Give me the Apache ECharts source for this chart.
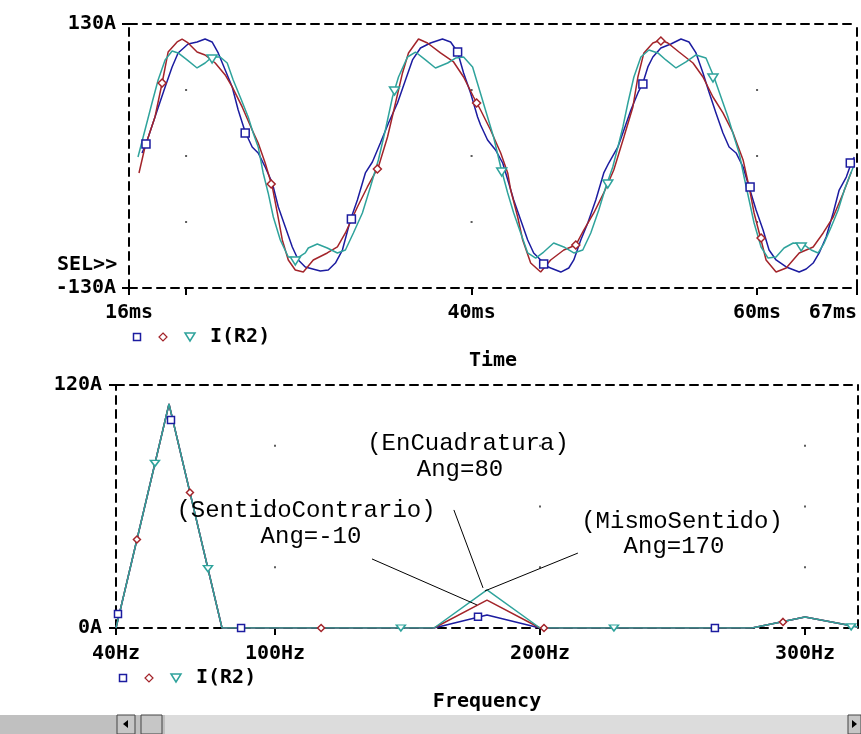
<!DOCTYPE html>
<html><head><meta charset="utf-8">
<script src="https://cdn.jsdelivr.net/npm/echarts@6/dist/echarts.min.js"></script>
<style>html,body{margin:0;padding:0;background:#fff}#c{width:861px;height:734px}</style>
</head><body><div id="c"></div>
<script>
// ---------- Top plot: I(R2) vs Time ----------
const timeTicks = [16, 20, 40, 60, 67];
const timeLabels = [16, 40, 60, 67];
const currentTicks = [-130, 130];
const timeGrid = [20, 40, 60];
const currentGrid = [-65, 0, 65];

const waveBlue = [[16.91,3],[17.19,11.8],[17.82,38.4],[18.53,68],[19.02,87.7],[19.44,101.5],[20.14,110.3],[20.77,112.3],[21.33,115.2],[21.82,112.3],[22.25,101.5],[22.74,84.7],[23.23,68],[23.65,45.3],[24.14,23.6],[24.63,8.9],[25.05,3],[25.54,-10.8],[26.04,-26.6],[26.46,-50.2],[26.95,-69.9],[27.44,-89.6],[27.86,-102.4],[28.35,-109.3],[29.4,-113.3],[29.96,-112.3],[30.46,-105.4],[30.95,-92.6],[31.51,-63],[32,-43.3],[32.56,-16.7],[33.05,-5.9],[33.61,12.8],[34.18,32.5],[34.81,52.2],[35.37,74.9],[35.86,94.6],[36.42,106.4],[37.12,111.3],[37.96,115.2],[38.53,112.3],[39.02,102.4],[39.44,81.8],[39.93,62.1],[40.42,38.4],[40.63,30.5],[41.12,15.8],[41.68,5.9],[42.18,-6.9],[42.6,-26.6],[42.95,-43.3],[43.44,-63],[43.93,-82.7],[44.35,-95.5],[44.84,-102.4],[45.05,-107.4],[45.54,-110.3],[46.25,-114.3],[46.81,-110.3],[47.16,-102.4],[47.65,-82.7],[48.14,-66],[48.7,-43.3],[49.26,-16.7],[49.61,-6.9],[50.25,8.9],[50.67,25.6],[51.16,45.3],[51.65,62.1],[52,71.9],[52.35,87.7],[52.7,97.5],[53.26,106.4],[53.96,110.3],[54.67,115.2],[55.23,112.3],[55.72,101.5],[56.21,81.8],[56.63,63],[57.12,42.4],[57.61,22.7],[58.04,8.9],[58.53,3],[59.02,-10.8],[59.44,-30.5],[59.93,-53.2],[60.42,-72.9],[60.84,-92.6],[61.33,-102.4],[62.04,-109.3],[62.95,-114.3],[63.44,-111.3],[63.93,-105.4],[64.35,-95.5],[64.84,-79.8],[65.33,-56.1],[65.75,-33.5],[66.25,-20.7],[66.6,-6.9],[66.81,-1]];

const waveRed = [[16.7,-16.7],[17.12,8.9],[17.82,38.4],[18.32,71.9],[18.74,102.4],[19.37,112.3],[19.72,115.2],[20.14,111.3],[20.77,102.4],[21.33,99.5],[22.04,91.6],[22.74,79.8],[23.23,68],[23.93,48.3],[24.63,25.6],[25.05,12.8],[25.54,-6.9],[26.04,-30.5],[26.39,-56.1],[26.74,-82.7],[27.16,-102.4],[27.65,-112.3],[28.21,-114.3],[28.91,-102.4],[29.89,-95.5],[30.6,-89.6],[31.16,-75.8],[32,-50.2],[32.7,-30.5],[33.47,-10.8],[34.11,18.7],[34.67,52.2],[35.16,81.8],[35.58,101.5],[36.28,115.2],[36.91,111.3],[37.82,101.5],[38.74,92.6],[39.44,77.8],[40.14,58.1],[40.63,45.3],[41.33,25.6],[42.04,3],[42.53,-16.7],[42.74,-33.5],[43.23,-60.1],[43.58,-82.7],[44.14,-105.4],[44.84,-114.3],[45.54,-102.4],[46.46,-92.6],[47.3,-87.7],[47.86,-72.9],[48.56,-56.1],[49.26,-36.4],[49.96,-13.8],[50.67,18.7],[51.3,48.3],[51.65,77.8],[52.07,101.5],[52.7,111.3],[53.26,114.3],[53.75,111.3],[54.53,102.4],[55.51,91.6],[56.21,77.8],[56.91,58.1],[57.61,42.4],[58.32,22.7],[59.02,-3.9],[59.44,-30.5],[59.79,-56.1],[60.28,-82.7],[60.63,-102.4],[61.33,-114.3],[62.04,-110.3],[62.95,-95.5],[63.93,-89.6],[64.63,-75.8],[65.33,-60.1],[66.04,-36.4],[66.6,-15.8]];

const waveCyan = [[16.63,-1],[17.12,25.6],[17.61,52.2],[18.04,74.9],[18.53,94.6],[19.02,103.4],[19.44,101.5],[20.07,94.6],[20.77,86.7],[21.33,91.6],[21.82,97.5],[22.39,97.5],[22.88,91.6],[23.3,74.9],[23.79,58.1],[24.35,38.4],[24.7,22.7],[25.05,8.9],[25.4,-16.7],[25.75,-36.4],[26.11,-60.1],[26.6,-82.7],[27.16,-99.5],[27.79,-100.5],[28.35,-95.5],[28.56,-90.6],[29.19,-86.7],[29.89,-90.6],[30.6,-95.5],[31.16,-92.6],[31.72,-75.8],[32.35,-56.1],[32.91,-30.5],[33.47,-3.9],[33.96,25.6],[34.46,58.1],[34.88,77.8],[35.51,97.5],[36.07,102.4],[36.77,94.6],[37.47,86.7],[38.32,91.6],[38.88,96.5],[39.44,97.5],[40.07,87.7],[40.49,68],[41.12,38.4],[41.54,18.7],[42.04,-10.8],[42.53,-36.4],[42.95,-56.1],[43.44,-75.8],[43.93,-95.5],[44.49,-100.5],[45.05,-94.6],[45.75,-85.7],[46.46,-89.6],[47.16,-95.5],[47.79,-92.6],[48.35,-75.8],[48.91,-53.2],[49.4,-30.5],[49.89,-10.8],[50.25,8.9],[50.6,28.6],[50.95,52.2],[51.37,77.8],[51.86,97.5],[52.42,104.4],[53.05,101.5],[53.61,94.6],[54.32,86.7],[55.02,92.6],[55.72,99.5],[56.42,96.5],[56.98,77.8],[57.47,58.1],[57.96,38.4],[58.39,18.7],[58.74,3],[59.09,-20.7],[59.44,-43.3],[59.79,-66],[60.28,-89.6],[60.77,-100.5],[61.33,-99.5],[61.89,-90.6],[62.53,-85.7],[63.23,-86.7],[63.79,-92.6],[64.28,-95.5],[64.7,-85.7],[65.19,-69.9],[65.68,-53.2],[66.11,-33.5],[66.46,-20.7],[66.74,-10.8]];

const markBlueTime = [[17.19,11.8],[24.14,22.7],[31.58,-62],[39.02,102.4],[45.05,-106.4],[52.0,70.9],[59.51,-30.5],[66.53,-6.9]];
const markRedTime = [[18.32,71.9],[25.96,-27.6],[33.40,-12.8],[40.35,52.2],[47.30,-87.7],[53.26,113.3],[60.28,-80.8]];
const markCyanTime = [[21.82,95.5],[27.65,-103.4],[34.60,64.0],[42.11,-15.8],[49.54,-27.6],[56.91,76.8],[63.09,-89.6]];

// ---------- Bottom plot: I(R2) spectrum ----------
const freqTicks = [40, 100, 200, 300];
const ampTicks = [0, 120];
const freqGrid = [100, 200, 300];
const ampGrid = [30, 60, 90];
const freqBins = [40, 60, 80, 100, 120, 140, 160, 180, 200, 220, 240, 260, 280, 300, 320];
const specBlue = [0, 110.6, 0, 0, 0, 0, 0, 6.4, 0, 0, 0, 0, 0, 5.4, 0.5];
const specRed  = [0, 110.6, 0, 0, 0, 0, 0, 13.8, 0, 0, 0, 0, 0, 5.4, 0.5];
const specCyan = [0, 110.6, 0, 0, 0, 0, 0, 18.8, 0, 0, 0, 0, 0, 5.4, 0.5];
const markBlueFreq = [[40.75,6.9],[60.75,102.7],[87.2,0],[176.6,5.6],[266,0]];
const markRedFreq = [[47.9,43.7],[67.9,66.9],[117.4,0],[201.5,0],[291.7,3.0]];
const markCyanFreq = [[54.7,81.3],[74.7,29.3],[147.5,0],[227.9,0],[317.4,0.6]];

const annotationLines = [
  [[167.5, 58.3], [178.5, 19.8]],
  [[136.6, 34.1], [176.2, 11.4]],
  [[214.3, 37.0], [179.2, 18.3]]
];
const annotationTexts = [
  ['(EnCuadratura)', 468, 444], ['Ang=80', 460, 470],
  ['(SentidoContrario)', 306, 511], ['Ang=-10', 311, 537],
  ['(MismoSentido)', 682, 522], ['Ang=170', 674, 547]
];

const BLUE = '#1c1ca0', RED = '#a3242a', CYAN = '#2fa39c';
const FONT = 'DejaVu Sans Mono';
const lblStyle = { fontFamily: FONT, fontWeight: 'bold', fontSize: 20, color: '#000' };
const dash = { color: '#000', width: 2, type: [8, 6] };

const pairs = (xs, ys) => xs.map((x, i) => [x, ys[i]]);
const cross = (xs, ys) => { const r = []; xs.forEach(x => ys.forEach(y => r.push([x, y]))); return r; };

function frameAxis(grid, pos) {
  return { type: 'value', gridIndex: grid, position: pos, min: 0, max: 1,
    axisLine: { show: true, onZero: false, lineStyle: dash }, axisTick: { show: false },
    axisLabel: { show: false }, splitLine: { show: false } };
}

const lineS = (name, data, color, xi, yi, extra) => Object.assign({
  type: 'line', name, data, xAxisIndex: xi, yAxisIndex: yi, symbol: 'none',
  lineStyle: { color, width: 1.5 }, itemStyle: { color }, animation: false, silent: true
}, extra || {});
const markS = (data, color, symbol, size, xi, yi, rot) => ({
  type: 'scatter', data, xAxisIndex: xi, yAxisIndex: yi, symbol, symbolSize: size,
  symbolRotate: rot || 0, silent: true, animation: false, z: 5,
  itemStyle: { color: '#fff', borderColor: color, borderWidth: 1.5, opacity: 1 }
});
const dotS = (data, xi, yi) => ({
  type: 'scatter', data, xAxisIndex: xi, yAxisIndex: yi, symbol: 'rect', symbolSize: 2,
  silent: true, animation: false, z: 1, itemStyle: { color: '#333' }
});

function legend(cx, cy) {
  const s = 3.5;
  return [
    { type: 'rect', shape: { x: cx - s, y: cy - s, width: 2 * s, height: 2 * s },
      style: { fill: '#fff', stroke: BLUE, lineWidth: 1.5 } },
    { type: 'polygon', shape: { points: [[cx + 26, cy - 4], [cx + 30, cy], [cx + 26, cy + 4], [cx + 22, cy]] },
      style: { fill: '#fff', stroke: RED, lineWidth: 1.2 } },
    { type: 'polygon', shape: { points: [[cx + 48, cy - 4], [cx + 58, cy - 4], [cx + 53, cy + 4]] },
      style: { fill: '#fff', stroke: CYAN, lineWidth: 1.5 } },
    { type: 'text', x: cx + 73, y: cy, style: { text: 'I(R2)', font: 'bold 20px "' + FONT + '"',
      fill: '#000', textVerticalAlign: 'middle', textAlign: 'left' } }
  ];
}

const chart = echarts.init(document.getElementById('c'), null, { renderer: 'canvas' });

const graphics = [].concat(
  legend(137, 337),
  legend(123, 678),
  [
    { type: 'text', x: 57, y: 265, style: { text: 'SEL>>', font: 'bold 20px "' + FONT + '"', fill: '#000', textVerticalAlign: 'middle' } },
    // scrollbar
    { type: 'rect', shape: { x: 0, y: 715, width: 861, height: 19 }, style: { fill: '#c0c0c0' } },
    { type: 'rect', shape: { x: 165, y: 715, width: 683, height: 19 }, style: { fill: '#dcdcdc' } },
    { type: 'rect', shape: { x: 117, y: 715, width: 18, height: 19 }, style: { fill: '#c6c6c6', stroke: '#444', lineWidth: 1 } },
    { type: 'polygon', shape: { points: [[123, 724], [128, 720], [128, 728]] }, style: { fill: '#000' } },
    { type: 'rect', shape: { x: 141, y: 715, width: 21, height: 19 }, style: { fill: '#c6c6c6', stroke: '#444', lineWidth: 1 } },
    { type: 'rect', shape: { x: 848, y: 715, width: 13, height: 19 }, style: { fill: '#c6c6c6', stroke: '#444', lineWidth: 1 } },
    { type: 'polygon', shape: { points: [[857, 724], [852, 720], [852, 728]] }, style: { fill: '#000' } }
  ],
  annotationTexts.map(t => ({ type: 'text', x: t[1], y: t[2], z: 10,
    style: { text: t[0], font: '24px "Liberation Mono"', fill: '#000', textAlign: 'center', textVerticalAlign: 'middle' } }))
);

chart.setOption({
  animation: false,
  backgroundColor: '#fff',
  grid: [
    { left: 129, top: 24, width: 728, height: 264 },
    { left: 116, top: 385, width: 742, height: 243 }
  ],
  xAxis: [
    { type: 'value', gridIndex: 0, min: 16, max: 67, position: 'bottom',
      name: 'Time', nameLocation: 'middle', nameGap: 63, nameTextStyle: lblStyle,
      axisLine: { show: true, onZero: false, lineStyle: dash },
      axisTick: { show: true, customValues: timeTicks, length: 7, lineStyle: { color: '#000', width: 2 } },
      axisLabel: Object.assign({ customValues: timeLabels, margin: 15, formatter: v => v + 'ms',
        showMinLabel: true, showMaxLabel: true, alignMaxLabel: 'right' }, lblStyle),
      splitLine: { show: false } },
    frameAxis(0, 'top'),
    { type: 'value', gridIndex: 1, min: 40, max: 320, position: 'bottom',
      name: 'Frequency', nameLocation: 'middle', nameGap: 64, nameTextStyle: lblStyle,
      axisLine: { show: true, onZero: false, lineStyle: dash },
      axisTick: { show: true, customValues: freqTicks, length: 7, lineStyle: { color: '#000', width: 2 } },
      axisLabel: Object.assign({ customValues: freqTicks, margin: 16, formatter: v => v + 'Hz',
        showMinLabel: true }, lblStyle),
      splitLine: { show: false } },
    frameAxis(1, 'top')
  ],
  yAxis: [
    { type: 'value', gridIndex: 0, min: -130, max: 130, position: 'left',
      axisLine: { show: true, onZero: false, lineStyle: dash },
      axisTick: { show: true, customValues: currentTicks, length: 7, lineStyle: { color: '#000', width: 2 } },
      axisLabel: Object.assign({ customValues: currentTicks, margin: 13, formatter: v => v + 'A',
        showMinLabel: true, showMaxLabel: true }, lblStyle),
      splitLine: { show: false } },
    frameAxis(0, 'right'),
    { type: 'value', gridIndex: 1, min: 0, max: 120, position: 'left',
      axisLine: { show: true, onZero: false, lineStyle: dash },
      axisTick: { show: true, customValues: ampTicks, length: 7, lineStyle: { color: '#000', width: 2 } },
      axisLabel: Object.assign({ customValues: ampTicks, margin: 14, formatter: v => v + 'A',
        showMinLabel: true, showMaxLabel: true }, lblStyle),
      splitLine: { show: false } },
    frameAxis(1, 'right')
  ],
  series: [
    dotS(cross(timeGrid, currentGrid), 0, 0),
    lineS('I(R2)', waveBlue, BLUE, 0, 0),
    lineS('I(R2)', waveRed, RED, 0, 0),
    lineS('I(R2)', waveCyan, CYAN, 0, 0),
    markS(markBlueTime, BLUE, 'rect', 8, 0, 0),
    markS(markRedTime, RED, 'diamond', 8, 0, 0),
    markS(markCyanTime, CYAN, 'triangle', [10, 8], 0, 0, 180),

    dotS(cross(freqGrid, ampGrid), 2, 2),
    lineS('I(R2)', pairs(freqBins, specBlue), BLUE, 2, 2),
    lineS('I(R2)', pairs(freqBins, specRed), RED, 2, 2),
    lineS('I(R2)', pairs(freqBins, specCyan), CYAN, 2, 2, {
      markLine: { silent: true, symbol: ['none', 'none'], animation: false,
        lineStyle: { color: '#000', width: 1, type: 'solid' }, label: { show: false },
        emphasis: { disabled: true },
        data: annotationLines.map(l => [{ coord: l[0] }, { coord: l[1] }]) }
    }),
    markS(markBlueFreq, BLUE, 'rect', 7, 2, 2),
    markS(markRedFreq, RED, 'diamond', 7, 2, 2),
    markS(markCyanFreq, CYAN, 'triangle', [9, 6], 2, 2, 180)
  ],
  graphic: { elements: graphics }
});
</script>
</body></html>
